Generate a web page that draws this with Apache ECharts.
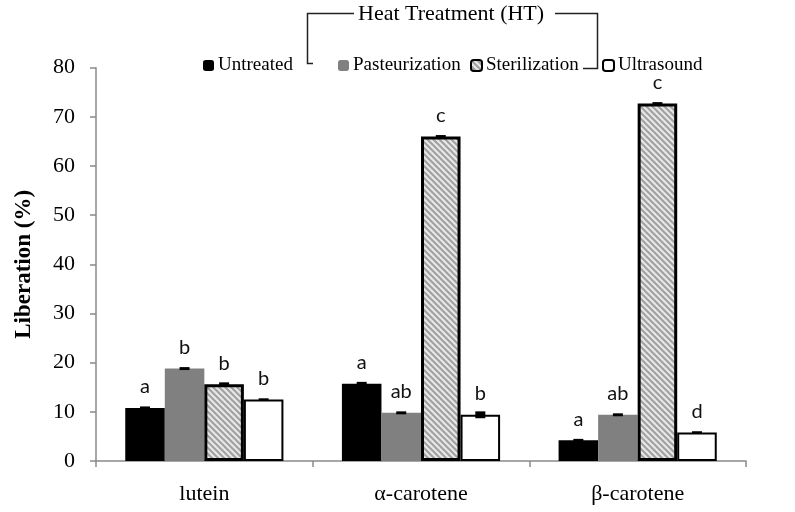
<!DOCTYPE html>
<html>
<head>
<meta charset="utf-8">
<script src="https://cdn.jsdelivr.net/npm/echarts@6/dist/echarts.min.js"></script>
<style>html,body{margin:0;padding:0;background:#fff}#c{width:795px;height:512px}</style>
</head>
<body>
<div id="c"></div>
<script>
// ---- data ----
const categories = ['lutein', 'α-carotene', 'β-carotene'];
const treatments = ['Untreated', 'Pasteurization', 'Sterilization', 'Ultrasound'];
const untreated = [10.8, 15.7, 4.2];
const pasteurization = [18.8, 9.8, 9.4];
const sterilization = [15.6, 66.0, 72.7];
const ultrasound = [12.5, 9.4, 5.8];
const untreatedErr = [0.3, 0.4, 0.3];
const pasteurizationErr = [0.3, 0.3, 0.3];
const sterilizationErr = [0.4, 0.3, 0.3];
const ultrasoundErr = [0.2, 0.7, 0.2];
const untreatedLetters = ['a', 'a', 'a'];
const pasteurizationLetters = ['b', 'ab', 'ab'];
const sterilizationLetters = ['b', 'c', 'c'];
const ultrasoundLetters = ['b', 'b', 'd'];
const yMin = 0, yMax = 80, yInterval = 10;
const yAxisTitle = 'Liberation (%)';
const groupTitle = 'Heat Treatment (HT)';

// ---- pattern ----
function makeHatch() {
  const s = 6;
  const cv = document.createElement('canvas');
  cv.width = s; cv.height = s;
  const g = cv.getContext('2d');
  g.fillStyle = '#e8e8e8';
  g.fillRect(0, 0, s, s);
  g.strokeStyle = '#a2a2a2';
  g.lineWidth = 2.2;
  g.beginPath();
  for (let k = -1; k <= 1; k++) {
    g.moveTo(k * s - 1, -1);
    g.lineTo(k * s + s + 1, s + 1);
  }
  g.stroke();
  return cv;
}
const hatch = { image: makeHatch(), repeat: 'repeat' };

const values = [untreated, pasteurization, sterilization, ultrasound];
const errs = [untreatedErr, pasteurizationErr, sterilizationErr, ultrasoundErr];
const letters = [untreatedLetters, pasteurizationLetters, sterilizationLetters, ultrasoundLetters];
const styles = [
  { color: '#000000' },
  { color: '#808080' },
  { color: hatch, borderColor: '#000', borderWidth: 3 },
  { color: '#ffffff', borderColor: '#000', borderWidth: 2 }
];

const errData = [];
values.forEach((arr, s) => arr.forEach((v, c) => errData.push([c, s, v, errs[s][c]])));

const serif = '"Liberation Serif", "Times New Roman", serif';
const axisGray = '#8a8a8a';

const barSeries = treatments.map((name, s) => ({
  name: name,
  type: 'bar',
  data: values[s],
  barCategoryGap: '27%',
  barGap: '0%',
  itemStyle: styles[s],
  label: {
    show: true,
    position: 'top',
    distance: 11,
    formatter: p => letters[s][p.dataIndex],
    fontFamily: 'Lato, "Open Sans", sans-serif',
    fontSize: 20,
    color: '#111'
  },
  emphasis: { disabled: true }
}));

const errSeries = {
  type: 'custom',
  name: 'err',
  data: errData,
  encode: { x: 0, y: 2 },
  z: 5,
  renderItem: function (params, api) {
    const c = api.value(0), s = api.value(1), v = api.value(2), e = api.value(3);
    const center = api.coord([c, v]);
    const band = api.size([1, 0])[0];
    const bw = band * 0.73 / 4;
    const x = center[0] + (s - 1.5) * bw;
    const yT = api.coord([c, v + e])[1];
    const yB = api.coord([c, v - e])[1];
    const h = Math.max(yB - yT, 2.5);
    const cy = (yT + yB) / 2;
    return {
      type: 'rect',
      shape: { x: x - 5, y: cy - h / 2, width: 10, height: h },
      style: { fill: '#000' }
    };
  }
};

const legendPos = [203, 338, 470, 602];
const legends = treatments.map((name, i) => ({
  data: [name],
  left: legendPos[i],
  top: 56,
  padding: 0,
  itemWidth: 11,
  itemHeight: 11,
  itemGap: 0,
  selectedMode: false,
  textStyle: { fontFamily: serif, fontSize: 19, color: '#000', padding: [0, 0, 0, -1] }
}));

const chart = echarts.init(document.getElementById('c'), null, { renderer: 'canvas' });
chart.setOption({
  animation: false,
  backgroundColor: '#fff',
  legend: legends,
  grid: { left: 96, right: 49, top: 67.7, bottom: 51, containLabel: false },
  xAxis: {
    type: 'category',
    data: categories,
    axisLine: { lineStyle: { color: axisGray, width: 1.5 } },
    axisTick: { show: true, length: 6, lineStyle: { color: axisGray, width: 1.5 } },
    axisLabel: { margin: 22, fontFamily: serif, fontSize: 22, color: '#000' }
  },
  yAxis: {
    type: 'value',
    min: yMin, max: yMax, interval: yInterval,
    name: yAxisTitle,
    nameLocation: 'middle',
    nameGap: 60,
    nameTextStyle: { fontFamily: serif, fontSize: 23, fontWeight: 'bold', color: '#000' },
    axisLine: { show: true, lineStyle: { color: axisGray, width: 1.5 } },
    axisTick: { show: true, length: 6, lineStyle: { color: axisGray, width: 1.5 } },
    splitLine: { show: false },
    axisLabel: { margin: 21, fontFamily: serif, fontSize: 22, color: '#000' }
  },
  graphic: [
    { type: 'text', left: 358, top: 3, style: { text: groupTitle, font: '22px ' + serif, fill: '#000' } },
    { type: 'polyline', shape: { points: [[313, 63.5], [307.5, 63.5], [307.5, 13.5], [354, 13.5]] }, style: { stroke: '#222', lineWidth: 1.5, fill: null } },
    { type: 'polyline', shape: { points: [[555, 13.5], [597.5, 13.5], [597.5, 68.5], [583, 68.5]] }, style: { stroke: '#222', lineWidth: 1.5, fill: null } }
  ],
  series: barSeries.concat([errSeries])
});
</script>
</body>
</html>
